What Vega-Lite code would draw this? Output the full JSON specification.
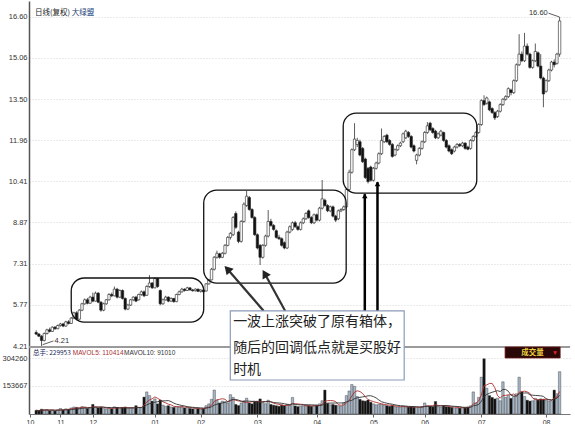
{
"$schema": "https://vega.github.io/schema/vega-lite/v6.json",
"width": 541, "height": 413,
"autosize": {"type": "none"},
"padding": {"left": 29, "top": 1, "right": 5, "bottom": 10},
"config": {
  "view": {"stroke": null},
  "font": "Liberation Sans",
  "axis": {"labelFont": "Liberation Sans", "labelFontSize": 7.5, "labelColor": "#333", "domainColor": "#555", "tickColor": "#666", "gridColor": "#d4d4d4", "gridDash": [1, 2]}
},
"data": {"values": [
{"i":0,"o":4.72,"h":4.80,"l":4.62,"c":4.66,"v":20000},
{"i":1,"o":4.66,"h":4.70,"l":4.55,"c":4.58,"v":17000},
{"i":2,"o":4.58,"h":4.62,"l":4.21,"c":4.42,"v":26000},
{"i":3,"o":4.42,"h":4.72,"l":4.38,"c":4.68,"v":22000},
{"i":4,"o":4.68,"h":4.86,"l":4.64,"c":4.82,"v":24000},
{"i":5,"o":4.82,"h":4.90,"l":4.72,"c":4.76,"v":18000},
{"i":6,"o":4.76,"h":4.95,"l":4.74,"c":4.92,"v":21000},
{"i":7,"o":4.92,"h":4.96,"l":4.82,"c":4.86,"v":16000},
{"i":8,"o":4.86,"h":5.02,"l":4.84,"c":4.98,"v":23000},
{"i":9,"o":4.98,"h":5.08,"l":4.94,"c":5.04,"v":30000},
{"i":10,"o":5.04,"h":5.08,"l":4.92,"c":4.96,"v":22000},
{"i":11,"o":4.96,"h":5.16,"l":4.94,"c":5.12,"v":28000},
{"i":12,"o":5.12,"h":5.18,"l":5.02,"c":5.06,"v":25000},
{"i":13,"o":5.06,"h":5.30,"l":5.04,"c":5.26,"v":33000},
{"i":14,"o":5.26,"h":5.50,"l":5.22,"c":5.46,"v":38000},
{"i":15,"o":5.46,"h":5.52,"l":5.18,"c":5.22,"v":36000},
{"i":16,"o":5.22,"h":5.60,"l":5.20,"c":5.56,"v":34000},
{"i":17,"o":5.56,"h":5.84,"l":5.52,"c":5.80,"v":40000},
{"i":18,"o":5.80,"h":6.00,"l":5.76,"c":5.95,"v":37000},
{"i":19,"o":5.95,"h":6.02,"l":5.78,"c":5.82,"v":30000},
{"i":20,"o":5.82,"h":6.10,"l":5.80,"c":6.05,"v":35000},
{"i":21,"o":6.05,"h":6.22,"l":5.86,"c":5.90,"v":52000},
{"i":22,"o":5.90,"h":6.26,"l":5.88,"c":6.20,"v":38000},
{"i":23,"o":6.20,"h":6.24,"l":5.82,"c":5.86,"v":33000},
{"i":24,"o":5.86,"h":5.90,"l":5.50,"c":5.56,"v":36000},
{"i":25,"o":5.56,"h":5.84,"l":5.52,"c":5.80,"v":30000},
{"i":26,"o":5.80,"h":5.98,"l":5.76,"c":5.95,"v":28000},
{"i":27,"o":5.95,"h":6.20,"l":5.92,"c":6.15,"v":34000},
{"i":28,"o":6.15,"h":6.22,"l":6.05,"c":6.10,"v":29000},
{"i":29,"o":6.10,"h":6.45,"l":6.08,"c":6.35,"v":39000},
{"i":30,"o":6.35,"h":6.40,"l":6.00,"c":6.05,"v":35000},
{"i":31,"o":6.05,"h":6.34,"l":6.02,"c":6.30,"v":32000},
{"i":32,"o":6.30,"h":6.34,"l":5.96,"c":6.00,"v":36000},
{"i":33,"o":6.00,"h":6.04,"l":5.55,"c":5.60,"v":38000},
{"i":34,"o":5.60,"h":5.80,"l":5.56,"c":5.75,"v":30000},
{"i":35,"o":5.75,"h":5.98,"l":5.72,"c":5.95,"v":33000},
{"i":36,"o":5.95,"h":6.08,"l":5.90,"c":6.05,"v":31000},
{"i":37,"o":6.05,"h":6.10,"l":5.86,"c":5.90,"v":45000},
{"i":38,"o":5.95,"h":6.18,"l":5.92,"c":6.15,"v":36000},
{"i":39,"o":6.15,"h":6.30,"l":6.10,"c":6.25,"v":34000},
{"i":40,"o":6.25,"h":6.30,"l":6.05,"c":6.10,"v":92000},
{"i":41,"o":6.12,"h":6.50,"l":6.10,"c":6.45,"v":120000},
{"i":42,"o":6.45,"h":6.88,"l":6.40,"c":6.58,"v":100000},
{"i":43,"o":6.58,"h":6.62,"l":6.36,"c":6.40,"v":70000},
{"i":44,"o":6.40,"h":6.80,"l":6.38,"c":6.75,"v":82000},
{"i":45,"o":6.75,"h":6.78,"l":6.40,"c":6.45,"v":55000},
{"i":46,"o":6.30,"h":6.34,"l":5.74,"c":5.80,"v":76000},
{"i":47,"o":5.80,"h":6.00,"l":5.76,"c":5.95,"v":48000},
{"i":48,"o":5.95,"h":6.10,"l":5.92,"c":6.05,"v":42000},
{"i":49,"o":6.05,"h":6.08,"l":5.86,"c":5.90,"v":45000},
{"i":50,"o":5.90,"h":6.04,"l":5.88,"c":6.00,"v":38000},
{"i":51,"o":6.00,"h":6.02,"l":5.84,"c":5.88,"v":36000},
{"i":52,"o":5.88,"h":6.18,"l":5.86,"c":6.15,"v":40000},
{"i":53,"o":6.15,"h":6.30,"l":6.12,"c":6.25,"v":38000},
{"i":54,"o":6.25,"h":6.40,"l":6.22,"c":6.35,"v":42000},
{"i":55,"o":6.35,"h":6.38,"l":6.26,"c":6.30,"v":33000},
{"i":56,"o":6.30,"h":6.44,"l":6.28,"c":6.40,"v":35000},
{"i":57,"o":6.40,"h":6.42,"l":6.30,"c":6.32,"v":30000},
{"i":58,"o":6.32,"h":6.36,"l":6.26,"c":6.29,"v":28000},
{"i":59,"o":6.29,"h":6.38,"l":6.26,"c":6.35,"v":31000},
{"i":60,"o":6.35,"h":6.37,"l":6.24,"c":6.27,"v":29000},
{"i":61,"o":6.27,"h":6.34,"l":6.22,"c":6.32,"v":27000},
{"i":62,"o":6.32,"h":6.34,"l":6.22,"c":6.25,"v":30000},
{"i":63,"o":6.28,"h":6.58,"l":6.26,"c":6.55,"v":45000},
{"i":64,"o":6.55,"h":6.74,"l":6.52,"c":6.70,"v":55000},
{"i":65,"o":6.70,"h":7.15,"l":6.68,"c":7.10,"v":80000},
{"i":66,"o":7.10,"h":7.60,"l":7.05,"c":7.55,"v":130000},
{"i":67,"o":7.55,"h":7.80,"l":7.50,"c":7.70,"v":75000},
{"i":68,"o":7.68,"h":7.72,"l":7.50,"c":7.55,"v":60000},
{"i":69,"o":7.55,"h":7.75,"l":7.52,"c":7.70,"v":70000},
{"i":70,"o":7.70,"h":8.05,"l":7.66,"c":8.00,"v":66000},
{"i":71,"o":8.00,"h":8.35,"l":7.96,"c":8.30,"v":60000},
{"i":72,"o":8.30,"h":8.50,"l":8.22,"c":8.45,"v":105000},
{"i":73,"o":8.40,"h":9.10,"l":8.35,"c":9.05,"v":90000},
{"i":74,"o":9.20,"h":9.28,"l":8.62,"c":8.68,"v":52000},
{"i":75,"o":8.50,"h":8.55,"l":8.08,"c":8.15,"v":46000},
{"i":76,"o":8.15,"h":8.95,"l":8.10,"c":8.90,"v":60000},
{"i":77,"o":8.90,"h":9.62,"l":8.85,"c":9.55,"v":72000},
{"i":78,"o":9.50,"h":10.05,"l":9.45,"c":9.85,"v":86000},
{"i":79,"o":9.80,"h":9.86,"l":9.30,"c":9.35,"v":60000},
{"i":80,"o":9.35,"h":9.40,"l":9.00,"c":9.05,"v":55000},
{"i":81,"o":9.05,"h":9.10,"l":8.36,"c":8.40,"v":66000},
{"i":82,"o":8.40,"h":8.45,"l":7.85,"c":7.90,"v":70000},
{"i":83,"o":8.00,"h":8.05,"l":7.26,"c":7.55,"v":82000},
{"i":84,"o":7.55,"h":8.05,"l":7.50,"c":8.00,"v":62000},
{"i":85,"o":8.00,"h":8.40,"l":7.95,"c":8.35,"v":56000},
{"i":86,"o":8.35,"h":9.33,"l":8.30,"c":8.90,"v":75000},
{"i":87,"o":8.90,"h":9.00,"l":8.70,"c":8.75,"v":52000},
{"i":88,"o":8.75,"h":8.80,"l":8.55,"c":8.60,"v":48000},
{"i":89,"o":8.55,"h":8.60,"l":8.25,"c":8.30,"v":45000},
{"i":90,"o":8.30,"h":8.40,"l":8.20,"c":8.25,"v":42000},
{"i":91,"o":8.25,"h":8.30,"l":7.95,"c":8.00,"v":50000},
{"i":92,"o":8.10,"h":8.15,"l":7.85,"c":7.90,"v":46000},
{"i":93,"o":7.90,"h":8.55,"l":7.86,"c":8.50,"v":52000},
{"i":94,"o":8.50,"h":8.75,"l":8.45,"c":8.70,"v":48000},
{"i":95,"o":8.60,"h":8.90,"l":8.55,"c":8.85,"v":90000},
{"i":96,"o":8.85,"h":8.92,"l":8.66,"c":8.70,"v":44000},
{"i":97,"o":8.70,"h":8.75,"l":8.55,"c":8.60,"v":40000},
{"i":98,"o":8.60,"h":8.90,"l":8.56,"c":8.85,"v":42000},
{"i":99,"o":8.85,"h":9.05,"l":8.80,"c":9.00,"v":45000},
{"i":100,"o":9.00,"h":9.25,"l":8.96,"c":9.20,"v":48000},
{"i":101,"o":9.30,"h":9.35,"l":9.00,"c":9.05,"v":46000},
{"i":102,"o":9.05,"h":9.10,"l":8.80,"c":8.85,"v":42000},
{"i":103,"o":8.85,"h":9.20,"l":8.80,"c":9.15,"v":44000},
{"i":104,"o":9.15,"h":9.20,"l":8.90,"c":8.95,"v":47000},
{"i":105,"o":8.95,"h":9.45,"l":8.90,"c":9.40,"v":55000},
{"i":106,"o":9.40,"h":10.46,"l":9.35,"c":9.75,"v":72000},
{"i":107,"o":9.70,"h":9.76,"l":9.45,"c":9.50,"v":130000},
{"i":108,"o":9.50,"h":9.55,"l":9.25,"c":9.30,"v":58000},
{"i":109,"o":9.30,"h":9.50,"l":9.25,"c":9.45,"v":50000},
{"i":110,"o":9.45,"h":9.50,"l":9.05,"c":9.10,"v":52000},
{"i":111,"o":9.10,"h":9.15,"l":8.88,"c":8.95,"v":48000},
{"i":112,"o":9.00,"h":9.35,"l":8.95,"c":9.30,"v":45000},
{"i":113,"o":9.30,"h":9.40,"l":9.25,"c":9.35,"v":42000},
{"i":114,"o":9.35,"h":9.50,"l":9.30,"c":9.45,"v":60000},
{"i":115,"o":9.45,"h":10.15,"l":9.40,"c":10.10,"v":100000},
{"i":116,"o":10.10,"h":10.85,"l":10.05,"c":10.75,"v":125000},
{"i":117,"o":10.75,"h":11.65,"l":10.70,"c":11.60,"v":160000},
{"i":118,"o":11.60,"h":12.60,"l":11.55,"c":12.00,"v":150000},
{"i":119,"o":11.80,"h":12.05,"l":11.70,"c":11.95,"v":95000},
{"i":120,"o":11.90,"h":11.98,"l":11.35,"c":11.40,"v":80000},
{"i":121,"o":11.65,"h":11.70,"l":11.10,"c":11.15,"v":72000},
{"i":122,"o":11.25,"h":11.30,"l":10.50,"c":10.55,"v":70000},
{"i":123,"o":10.90,"h":10.95,"l":10.33,"c":10.40,"v":76000},
{"i":124,"o":10.95,"h":11.00,"l":10.40,"c":10.45,"v":64000},
{"i":125,"o":10.45,"h":10.95,"l":10.40,"c":10.90,"v":55000},
{"i":126,"o":10.90,"h":11.15,"l":10.85,"c":11.10,"v":50000},
{"i":127,"o":11.10,"h":11.50,"l":11.05,"c":11.45,"v":52000},
{"i":128,"o":11.45,"h":12.40,"l":11.40,"c":11.95,"v":54000},
{"i":129,"o":11.90,"h":12.15,"l":11.85,"c":12.10,"v":48000},
{"i":130,"o":12.15,"h":12.20,"l":11.85,"c":11.90,"v":45000},
{"i":131,"o":11.95,"h":12.00,"l":11.75,"c":11.80,"v":42000},
{"i":132,"o":11.80,"h":11.85,"l":11.30,"c":11.35,"v":46000},
{"i":133,"o":11.40,"h":11.65,"l":11.35,"c":11.60,"v":40000},
{"i":134,"o":11.60,"h":11.80,"l":11.55,"c":11.75,"v":38000},
{"i":135,"o":11.75,"h":11.90,"l":11.70,"c":11.85,"v":36000},
{"i":136,"o":11.90,"h":12.25,"l":11.85,"c":12.20,"v":42000},
{"i":137,"o":12.05,"h":12.35,"l":12.00,"c":12.30,"v":40000},
{"i":138,"o":12.25,"h":12.30,"l":12.05,"c":12.10,"v":38000},
{"i":139,"o":12.10,"h":12.15,"l":11.65,"c":11.70,"v":40000},
{"i":140,"o":11.75,"h":11.80,"l":11.50,"c":11.55,"v":37000},
{"i":141,"o":11.20,"h":11.45,"l":11.05,"c":11.40,"v":35000},
{"i":142,"o":11.40,"h":11.70,"l":11.35,"c":11.65,"v":36000},
{"i":143,"o":11.65,"h":11.95,"l":11.60,"c":11.90,"v":40000},
{"i":144,"o":11.90,"h":12.30,"l":11.85,"c":12.25,"v":60000},
{"i":145,"o":12.25,"h":12.64,"l":12.20,"c":12.50,"v":45000},
{"i":146,"o":12.60,"h":12.65,"l":12.30,"c":12.35,"v":42000},
{"i":147,"o":12.40,"h":12.45,"l":12.20,"c":12.25,"v":38000},
{"i":148,"o":12.30,"h":12.35,"l":12.00,"c":12.05,"v":68000},
{"i":149,"o":12.05,"h":12.25,"l":12.00,"c":12.20,"v":40000},
{"i":150,"o":12.15,"h":12.35,"l":12.10,"c":12.30,"v":36000},
{"i":151,"o":12.25,"h":12.28,"l":11.90,"c":11.95,"v":45000},
{"i":152,"o":11.95,"h":12.00,"l":11.65,"c":11.70,"v":40000},
{"i":153,"o":11.75,"h":11.80,"l":11.50,"c":11.55,"v":38000},
{"i":154,"o":11.60,"h":11.65,"l":11.40,"c":11.45,"v":36000},
{"i":155,"o":11.55,"h":11.75,"l":11.50,"c":11.70,"v":34000},
{"i":156,"o":11.70,"h":11.85,"l":11.65,"c":11.80,"v":33000},
{"i":157,"o":11.80,"h":11.85,"l":11.70,"c":11.75,"v":32000},
{"i":158,"o":11.75,"h":11.90,"l":11.70,"c":11.85,"v":35000},
{"i":159,"o":11.85,"h":11.88,"l":11.60,"c":11.65,"v":34000},
{"i":160,"o":11.70,"h":11.75,"l":11.58,"c":11.62,"v":38000},
{"i":161,"o":11.65,"h":12.00,"l":11.60,"c":11.95,"v":45000},
{"i":162,"o":11.95,"h":12.15,"l":11.90,"c":12.10,"v":120000},
{"i":163,"o":12.10,"h":12.30,"l":12.05,"c":12.25,"v":60000},
{"i":164,"o":12.25,"h":12.60,"l":12.20,"c":12.55,"v":90000},
{"i":165,"o":12.55,"h":13.50,"l":12.50,"c":13.45,"v":200000},
{"i":166,"o":13.45,"h":13.65,"l":13.25,"c":13.30,"v":300000},
{"i":167,"o":13.35,"h":13.60,"l":13.30,"c":13.55,"v":140000},
{"i":168,"o":13.40,"h":13.45,"l":13.05,"c":13.10,"v":100000},
{"i":169,"o":13.15,"h":13.20,"l":12.95,"c":13.00,"v":90000},
{"i":170,"o":13.00,"h":13.05,"l":12.72,"c":12.80,"v":82000},
{"i":171,"o":12.85,"h":13.10,"l":12.80,"c":13.05,"v":86000},
{"i":172,"o":13.05,"h":13.35,"l":13.00,"c":13.30,"v":72000},
{"i":173,"o":13.30,"h":13.55,"l":13.25,"c":13.50,"v":175000},
{"i":174,"o":13.50,"h":13.65,"l":13.45,"c":13.60,"v":90000},
{"i":175,"o":13.60,"h":13.95,"l":13.55,"c":13.90,"v":100000},
{"i":176,"o":13.85,"h":13.90,"l":13.65,"c":13.75,"v":85000},
{"i":177,"o":13.75,"h":14.25,"l":13.70,"c":14.20,"v":95000},
{"i":178,"o":14.20,"h":14.85,"l":14.15,"c":14.80,"v":110000},
{"i":179,"o":14.80,"h":15.95,"l":14.75,"c":15.20,"v":200000},
{"i":180,"o":15.20,"h":15.30,"l":14.90,"c":14.95,"v":120000},
{"i":181,"o":14.95,"h":16.00,"l":14.90,"c":15.50,"v":95000},
{"i":182,"o":15.50,"h":15.60,"l":15.15,"c":15.20,"v":75000},
{"i":183,"o":15.20,"h":15.25,"l":14.65,"c":14.70,"v":70000},
{"i":184,"o":14.70,"h":15.00,"l":14.65,"c":14.95,"v":72000},
{"i":185,"o":14.95,"h":15.60,"l":14.90,"c":15.30,"v":85000},
{"i":186,"o":15.25,"h":15.30,"l":14.70,"c":14.75,"v":78000},
{"i":187,"o":14.75,"h":15.20,"l":14.25,"c":14.30,"v":82000},
{"i":188,"o":14.30,"h":14.35,"l":13.20,"c":13.70,"v":80000},
{"i":189,"o":13.80,"h":14.25,"l":13.75,"c":14.20,"v":76000},
{"i":190,"o":14.20,"h":14.65,"l":14.15,"c":14.60,"v":70000},
{"i":191,"o":14.60,"h":14.95,"l":14.55,"c":14.90,"v":72000},
{"i":192,"o":14.90,"h":15.00,"l":14.70,"c":14.80,"v":130000},
{"i":193,"o":14.85,"h":15.25,"l":14.80,"c":15.20,"v":110000},
{"i":194,"o":15.20,"h":16.60,"l":15.10,"c":16.45,"v":229953}
]},
"layer": [
 {"layer": [
  {"data": {"values": [{"p": 4.17}]},
   "mark": {"type": "rule", "color": "#9a9a9a", "strokeWidth": 2},
   "encoding": {"y": {"field": "p", "type": "quantitative", "title": null, "scale": {"domain": [1.65, 17.2], "nice": false, "zero": false}}}},
  {"mark": {"type": "rule", "color": "#333", "strokeWidth": 0.8},
   "encoding": {
     "x": {"field": "i", "type": "quantitative", "title": null, "scale": {"domain": [-0.8, 196], "nice": false, "zero": false},
           "axis": {"values": [-2.3, 9, 21, 44, 61, 82, 104, 125, 144, 165, 189], "labelExpr": "['10','11','12','01','02','03','04','05','06','07','08'][indexof([-2.3,9,21,44,61,82,104,125,144,165,189], datum.value)]", "tickSize": 3, "labelPadding": 1, "labelFlush": false, "labelOverlap": false, "labelBound": false, "grid": false, "labelFontSize": 7, "domainColor": "#777"}},
     "y": {"field": "l", "type": "quantitative", "title": null, "scale": {"domain": [1.65, 17.2], "nice": false, "zero": false},
           "axis": {"orient": "left", "values": [4.21, 5.77, 7.31, 8.87, 10.41, 11.96, 13.50, 15.06, 16.60], "format": ".2f", "tickSize": 0, "labelPadding": 2, "grid": true, "domainWidth": 1.5, "labelOverlap": false}},
     "y2": {"field": "h"}}},
  {"mark": {"type": "bar", "size": 2.4, "stroke": "#222", "strokeWidth": 0.6},
   "encoding": {
     "x": {"field": "i", "type": "quantitative", "title": null, "scale": {"domain": [-0.8, 196], "nice": false, "zero": false}},
     "y": {"field": "o", "type": "quantitative", "title": null, "scale": {"domain": [1.65, 17.2], "nice": false, "zero": false}},
     "y2": {"field": "c"},
     "fill": {"condition": {"test": "datum.c < datum.o", "value": "#111"}, "value": "#ffffff"}}},
  {"data": {"values": [
     {"i": 13.0, "i2": 62.1, "p": 6.77, "p2": 5.11},
     {"i": 62.1, "i2": 114.9, "p": 10.08, "p2": 6.58},
     {"i": 113.8, "i2": 163.3, "p": 12.98, "p2": 9.97}]},
   "mark": {"type": "rect", "fillOpacity": 0, "stroke": "#111", "strokeWidth": 1.3, "cornerRadius": 13},
   "encoding": {
     "x": {"field": "i", "type": "quantitative", "title": null, "scale": {"domain": [-0.8, 196], "nice": false, "zero": false}},
     "x2": {"field": "i2"},
     "y": {"field": "p", "type": "quantitative", "title": null, "scale": {"domain": [1.65, 17.2], "nice": false, "zero": false}},
     "y2": {"field": "p2"}}},
  {"data": {"values": [
     {"i": 84.34, "p": 5.53, "i2": 70.86, "p2": 7.11},
     {"i": 92.3, "p": 5.53, "i2": 84.7, "p2": 6.94}]},
   "mark": {"type": "rule", "color": "#333", "strokeWidth": 2.2},
   "encoding": {
     "x": {"field": "i", "type": "quantitative", "title": null, "scale": {"domain": [-0.8, 196], "nice": false, "zero": false}},
     "x2": {"field": "i2"},
     "y": {"field": "p", "type": "quantitative", "title": null, "scale": {"domain": [1.65, 17.2], "nice": false, "zero": false}},
     "y2": {"field": "p2"}}},
  {"data": {"values": [{"i": 70.86, "p": 7.11}]},
   "mark": {"type": "point", "shape": "triangle-up", "filled": true, "color": "#222", "opacity": 1, "size": 90, "angle": 317},
   "encoding": {
     "x": {"field": "i", "type": "quantitative", "title": null, "scale": {"domain": [-0.8, 196], "nice": false, "zero": false}},
     "y": {"field": "p", "type": "quantitative", "title": null, "scale": {"domain": [1.65, 17.2], "nice": false, "zero": false}}}},
  {"data": {"values": [{"i": 84.7, "p": 6.94}]},
   "mark": {"type": "point", "shape": "triangle-up", "filled": true, "color": "#222", "opacity": 1, "size": 90, "angle": 330},
   "encoding": {
     "x": {"field": "i", "type": "quantitative", "title": null, "scale": {"domain": [-0.8, 196], "nice": false, "zero": false}},
     "y": {"field": "p", "type": "quantitative", "title": null, "scale": {"domain": [1.65, 17.2], "nice": false, "zero": false}}}},
  {"data": {"values": [
     {"i": 121.8, "p": 9.93, "p2": 5.53},
     {"i": 126.5, "p": 10.38, "p2": 5.53}]},
   "mark": {"type": "rule", "color": "#000", "strokeWidth": 2.5},
   "encoding": {
     "x": {"field": "i", "type": "quantitative", "title": null, "scale": {"domain": [-0.8, 196], "nice": false, "zero": false}},
     "y": {"field": "p", "type": "quantitative", "title": null, "scale": {"domain": [1.65, 17.2], "nice": false, "zero": false}},
     "y2": {"field": "p2"}}},
  {"data": {"values": [{"i": 121.8, "p": 9.86}, {"i": 126.5, "p": 10.31}]},
   "mark": {"type": "point", "shape": "triangle-up", "filled": true, "color": "#000", "opacity": 1, "size": 30},
   "encoding": {
     "x": {"field": "i", "type": "quantitative", "title": null, "scale": {"domain": [-0.8, 196], "nice": false, "zero": false}},
     "y": {"field": "p", "type": "quantitative", "title": null, "scale": {"domain": [1.65, 17.2], "nice": false, "zero": false}}}},
  {"data": {"values": [{"i": 71.95, "i2": 136.4, "p": 5.53, "p2": 2.93}]},
   "mark": {"type": "rect", "fill": "#ffffff", "stroke": "#8b9bbb", "strokeWidth": 1.2},
   "encoding": {
     "x": {"field": "i", "type": "quantitative", "title": null, "scale": {"domain": [-0.8, 196], "nice": false, "zero": false}},
     "x2": {"field": "i2"},
     "y": {"field": "p", "type": "quantitative", "title": null, "scale": {"domain": [1.65, 17.2], "nice": false, "zero": false}},
     "y2": {"field": "p2"}}},
  {"data": {"values": [
     {"i": 73.0, "p": 5.125, "t": "一波上涨突破了原有箱体，"},
     {"i": 73.0, "p": 4.146, "t": "随后的回调低点就是买股好"},
     {"i": 73.0, "p": 3.306, "t": "时机"}]},
   "mark": {"type": "text", "align": "left", "baseline": "middle", "font": "Noto Sans CJK SC", "fontSize": 14, "color": "#222"},
   "encoding": {
     "x": {"field": "i", "type": "quantitative", "title": null, "scale": {"domain": [-0.8, 196], "nice": false, "zero": false}},
     "y": {"field": "p", "type": "quantitative", "title": null, "scale": {"domain": [1.65, 17.2], "nice": false, "zero": false}},
     "text": {"field": "t"}}},
  {"data": {"values": [
     {"i": 2.4, "p": 4.26, "i2": 6.4, "p2": 4.40},
     {"i": 189.9, "p": 16.74, "i2": 193.9, "p2": 16.60}]},
   "mark": {"type": "rule", "color": "#333", "strokeWidth": 0.8},
   "encoding": {
     "x": {"field": "i", "type": "quantitative", "title": null, "scale": {"domain": [-0.8, 196], "nice": false, "zero": false}},
     "x2": {"field": "i2"},
     "y": {"field": "p", "type": "quantitative", "title": null, "scale": {"domain": [1.65, 17.2], "nice": false, "zero": false}},
     "y2": {"field": "p2"}}},
  {"data": {"values": [{"i": 6.8, "p": 4.40, "t": "4.21"}]},
   "mark": {"type": "text", "align": "left", "baseline": "middle", "fontSize": 7.5, "color": "#333"},
   "encoding": {
     "x": {"field": "i", "type": "quantitative", "title": null, "scale": {"domain": [-0.8, 196], "nice": false, "zero": false}},
     "y": {"field": "p", "type": "quantitative", "title": null, "scale": {"domain": [1.65, 17.2], "nice": false, "zero": false}},
     "text": {"field": "t"}}},
  {"data": {"values": [{"i": 189.6, "p": 16.76, "t": "16.60"}]},
   "mark": {"type": "text", "align": "right", "baseline": "middle", "fontSize": 7.5, "color": "#333"},
   "encoding": {
     "x": {"field": "i", "type": "quantitative", "title": null, "scale": {"domain": [-0.8, 196], "nice": false, "zero": false}},
     "y": {"field": "p", "type": "quantitative", "title": null, "scale": {"domain": [1.65, 17.2], "nice": false, "zero": false}},
     "text": {"field": "t"}}},
  {"data": {"values": [{"i": -0.45, "p": 16.75, "t": "日线(复权)"}]},
   "mark": {"type": "text", "align": "left", "baseline": "middle", "font": "Noto Sans CJK SC", "fontSize": 7.5, "color": "#222"},
   "encoding": {
     "x": {"field": "i", "type": "quantitative", "title": null, "scale": {"domain": [-0.8, 196], "nice": false, "zero": false}},
     "y": {"field": "p", "type": "quantitative", "title": null, "scale": {"domain": [1.65, 17.2], "nice": false, "zero": false}},
     "text": {"field": "t"}}},
  {"data": {"values": [{"i": 13.2, "p": 16.75, "t": "大绿盟"}]},
   "mark": {"type": "text", "align": "left", "baseline": "middle", "font": "Noto Sans CJK SC", "fontSize": 7.5, "color": "#1b3f7a"},
   "encoding": {
     "x": {"field": "i", "type": "quantitative", "title": null, "scale": {"domain": [-0.8, 196], "nice": false, "zero": false}},
     "y": {"field": "p", "type": "quantitative", "title": null, "scale": {"domain": [1.65, 17.2], "nice": false, "zero": false}},
     "text": {"field": "t"}}},
  {"data": {"values": [{"i": -1.2, "p": 3.95, "t": "总手: 229953"}]},
   "mark": {"type": "text", "align": "left", "baseline": "middle", "font": "Noto Sans CJK SC", "fontSize": 6.5, "color": "#1a2a5a"},
   "encoding": {
     "x": {"field": "i", "type": "quantitative", "title": null, "scale": {"domain": [-0.8, 196], "nice": false, "zero": false}},
     "y": {"field": "p", "type": "quantitative", "title": null, "scale": {"domain": [1.65, 17.2], "nice": false, "zero": false}},
     "text": {"field": "t"}}},
  {"data": {"values": [{"i": 13.6, "p": 3.95, "t": "MAVOL5: 110414"}]},
   "mark": {"type": "text", "align": "left", "baseline": "middle", "fontSize": 6.5, "color": "#a83232"},
   "encoding": {
     "x": {"field": "i", "type": "quantitative", "title": null, "scale": {"domain": [-0.8, 196], "nice": false, "zero": false}},
     "y": {"field": "p", "type": "quantitative", "title": null, "scale": {"domain": [1.65, 17.2], "nice": false, "zero": false}},
     "text": {"field": "t"}}},
  {"data": {"values": [{"i": 32.6, "p": 3.95, "t": "MAVOL10: 91010"}]},
   "mark": {"type": "text", "align": "left", "baseline": "middle", "fontSize": 6.5, "color": "#333"},
   "encoding": {
     "x": {"field": "i", "type": "quantitative", "title": null, "scale": {"domain": [-0.8, 196], "nice": false, "zero": false}},
     "y": {"field": "p", "type": "quantitative", "title": null, "scale": {"domain": [1.65, 17.2], "nice": false, "zero": false}},
     "text": {"field": "t"}}},
  {"data": {"values": [{"i": 173.8, "i2": 194.2, "p": 4.17, "p2": 3.76}]},
   "mark": {"type": "rect", "fill": "#2a0808", "stroke": "#6a1010", "strokeWidth": 0.8},
   "encoding": {
     "x": {"field": "i", "type": "quantitative", "title": null, "scale": {"domain": [-0.8, 196], "nice": false, "zero": false}},
     "x2": {"field": "i2"},
     "y": {"field": "p", "type": "quantitative", "title": null, "scale": {"domain": [1.65, 17.2], "nice": false, "zero": false}},
     "y2": {"field": "p2"}}},
  {"data": {"values": [{"i": 184.0, "p": 3.965, "t": "成交量"}]},
   "mark": {"type": "text", "align": "center", "baseline": "middle", "font": "Noto Sans CJK SC", "fontSize": 7.5, "fontWeight": "bold", "color": "#e8d040"},
   "encoding": {
     "x": {"field": "i", "type": "quantitative", "title": null, "scale": {"domain": [-0.8, 196], "nice": false, "zero": false}},
     "y": {"field": "p", "type": "quantitative", "title": null, "scale": {"domain": [1.65, 17.2], "nice": false, "zero": false}},
     "text": {"field": "t"}}},
  {"data": {"values": [{"i": 192.3, "p": 3.965, "t": "▼"}]},
   "mark": {"type": "text", "align": "center", "baseline": "middle", "fontSize": 6.5, "color": "#e02020"},
   "encoding": {
     "x": {"field": "i", "type": "quantitative", "title": null, "scale": {"domain": [-0.8, 196], "nice": false, "zero": false}},
     "y": {"field": "p", "type": "quantitative", "title": null, "scale": {"domain": [1.65, 17.2], "nice": false, "zero": false}},
     "text": {"field": "t"}}}
 ]},
 {"layer": [
  {"mark": {"type": "bar", "size": 2.4, "stroke": "#333", "strokeWidth": 0.4},
   "encoding": {
     "x": {"field": "i", "type": "quantitative", "title": null, "scale": {"domain": [-0.8, 196], "nice": false, "zero": false}},
     "y": {"field": "v", "type": "quantitative", "title": null, "scale": {"domain": [0, 2243918], "nice": false},
           "axis": {"orient": "left", "values": [153667, 304260], "format": "d", "tickSize": 0, "labelPadding": 2, "domain": false, "grid": true, "labelOverlap": false}},
     "fill": {"condition": {"test": "datum.c < datum.o", "value": "#111"}, "value": "#a8b8c8"}}},
  {"transform": [{"window": [{"op": "mean", "field": "v", "as": "m5"}], "frame": [-4, 0], "sort": [{"field": "i"}]}],
   "mark": {"type": "line", "color": "#b03030", "strokeWidth": 0.9},
   "encoding": {
     "x": {"field": "i", "type": "quantitative", "title": null, "scale": {"domain": [-0.8, 196], "nice": false, "zero": false}},
     "y": {"field": "m5", "type": "quantitative", "title": null, "scale": {"domain": [0, 2243918], "nice": false}}}},
  {"transform": [{"window": [{"op": "mean", "field": "v", "as": "m10"}], "frame": [-9, 0], "sort": [{"field": "i"}]}],
   "mark": {"type": "line", "color": "#333333", "strokeWidth": 0.9},
   "encoding": {
     "x": {"field": "i", "type": "quantitative", "title": null, "scale": {"domain": [-0.8, 196], "nice": false, "zero": false}},
     "y": {"field": "m10", "type": "quantitative", "title": null, "scale": {"domain": [0, 2243918], "nice": false}}}}
 ]}
],
"resolve": {"scale": {"y": "independent"}, "axis": {"y": "independent"}}
}
